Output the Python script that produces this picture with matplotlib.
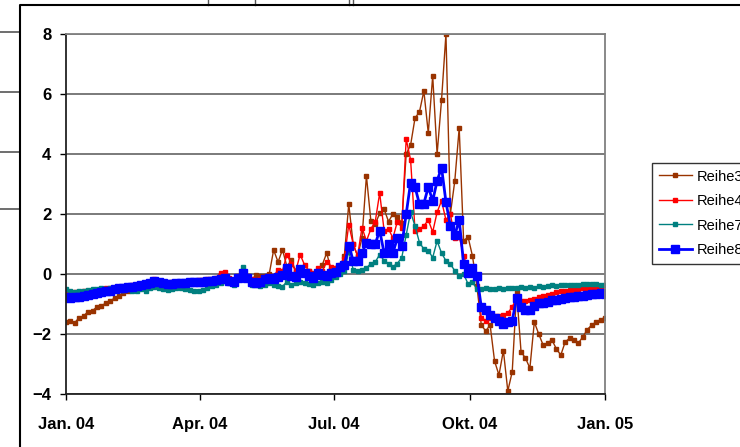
import pandas as pd
import matplotlib.pyplot as plt
import matplotlib.dates as mdates
from matplotlib.lines import Line2D

plt.rcParams['font.family'] = ['Liberation Sans', 'DejaVu Sans']

# data (every 3rd day)
dates = pd.date_range('2004-01-01', periods=123, freq='3D')

reihe3 = [-1.60, -1.55, -1.62, -1.45, -1.40, -1.25, -1.22, -1.10, -1.05, -0.98,
          -0.90, -0.80, -0.72, -0.62, -0.57, -0.52, -0.45, -0.42, -0.38, -0.34,
          -0.28, -0.30, -0.34, -0.36, -0.33, -0.32, -0.30, -0.31, -0.28, -0.27,
          -0.26, -0.25, -0.22, -0.20, -0.18, -0.10, -0.12, -0.20, -0.25, -0.10,
          0.05, -0.10, -0.20, -0.03, -0.05, -0.08, 0.00, 0.80, 0.40, 0.81,
          0.25, 0.46, 0.10, 0.15, 0.05, 0.10, 0.00, 0.10, 0.30, 0.70,
          0.15, 0.20, 0.25, 0.60, 2.33, 1.00, 0.60, 1.20, 3.27, 1.78,
          1.67, 2.02, 2.16, 1.75, 2.00, 1.90, 1.70, 4.00, 4.30, 5.20,
          5.40, 6.10, 4.70, 6.60, 4.00, 5.80, 8.00, 2.00, 3.10, 4.87,
          1.10, 1.24, 0.60, -0.39, -1.70, -1.90, -1.70, -2.90, -3.37, -2.55,
          -3.90, -3.26, -0.60, -2.60, -2.80, -3.14, -1.60, -2.00, -2.37, -2.30,
          -2.20, -2.50, -2.70, -2.26, -2.14, -2.20, -2.30, -2.09, -1.85, -1.70,
          -1.60, -1.52, -1.45]

reihe4 = [-0.55, -0.62, -0.60, -0.62, -0.58, -0.56, -0.55, -0.52, -0.50, -0.48,
          -0.47, -0.45, -0.43, -0.42, -0.40, -0.37, -0.35, -0.33, -0.30, -0.28,
          -0.18, -0.22, -0.28, -0.30, -0.28, -0.27, -0.25, -0.26, -0.22, -0.22,
          -0.20, -0.20, -0.18, -0.15, -0.12, 0.05, 0.08, -0.12, -0.20, -0.05,
          0.10, -0.08, -0.18, -0.20, -0.18, -0.10, -0.05, -0.08, 0.15, 0.10,
          0.65, 0.35, 0.10, 0.65, 0.30, 0.10, 0.05, 0.20, 0.10, 0.40,
          0.25, 0.20, 0.30, 0.50, 1.65, 1.00, 0.60, 1.55, 1.10, 1.50,
          1.75, 2.70, 1.45, 1.50, 1.20, 1.75, 1.55, 4.50, 3.80, 1.45,
          1.50, 1.60, 1.80, 1.40, 2.06, 2.44, 1.80, 2.00, 1.20, 1.25,
          0.60, 0.20, 0.00, -0.10, -1.45, -1.55, -1.45, -1.40, -1.40, -1.35,
          -1.30, -1.10, -0.78, -0.90, -0.90, -0.87, -0.82, -0.78, -0.72, -0.70,
          -0.66, -0.60, -0.58, -0.55, -0.53, -0.52, -0.50, -0.48, -0.48, -0.47,
          -0.48, -0.50, -0.58]

reihe7 = [-0.50, -0.55, -0.60, -0.58, -0.55, -0.52, -0.50, -0.50, -0.48, -0.50,
          -0.48, -0.47, -0.50, -0.52, -0.50, -0.55, -0.55, -0.50, -0.55, -0.45,
          -0.42, -0.45, -0.50, -0.52, -0.50, -0.48, -0.47, -0.50, -0.52, -0.55,
          -0.58, -0.52, -0.45, -0.40, -0.35, -0.30, -0.20, -0.30, -0.35, -0.10,
          0.22, -0.15, -0.35, -0.38, -0.40, -0.38, -0.30, -0.35, -0.40, -0.42,
          -0.25, -0.35, -0.30, -0.25, -0.30, -0.32, -0.35, -0.30, -0.28, -0.30,
          -0.20, -0.10, 0.00, 0.10, 0.75, 0.15, 0.10, 0.15, 0.20, 0.35,
          0.40, 0.65, 0.45, 0.35, 0.25, 0.35, 0.55, 1.30, 2.06, 1.60,
          1.05, 0.83, 0.78, 0.55, 1.10, 0.70, 0.44, 0.33, 0.11, -0.06,
          0.00, -0.33, -0.28, -0.50, -0.50, -0.48, -0.50, -0.50, -0.48, -0.50,
          -0.47, -0.45, -0.45, -0.43, -0.45, -0.42, -0.45, -0.40, -0.42, -0.40,
          -0.38, -0.40, -0.38, -0.37, -0.36, -0.35, -0.36, -0.34, -0.33, -0.32,
          -0.33, -0.35, -0.38]

reihe8 = [-0.78, -0.80, -0.76, -0.75, -0.72, -0.70, -0.68, -0.62, -0.60, -0.55,
          -0.55, -0.50, -0.48, -0.47, -0.44, -0.42, -0.39, -0.36, -0.32, -0.30,
          -0.22, -0.25, -0.31, -0.34, -0.33, -0.31, -0.30, -0.31, -0.28, -0.27,
          -0.26, -0.26, -0.24, -0.22, -0.20, -0.16, -0.14, -0.22, -0.28, -0.12,
          0.05, -0.12, -0.25, -0.30, -0.28, -0.18, -0.14, -0.16, -0.10, -0.02,
          0.20, -0.05, -0.10, 0.18, 0.05, -0.05, -0.12, 0.02, -0.02, -0.05,
          0.05, 0.08, 0.24, 0.30, 0.95, 0.45, 0.42, 0.70, 1.05, 1.00,
          1.00, 1.45, 0.70, 1.00, 0.70, 1.20, 0.95, 2.00, 3.05, 2.90,
          2.33, 2.35, 2.90, 2.44, 3.10, 3.55, 2.40, 1.60, 1.30, 1.80,
          0.33, 0.05, 0.20, -0.05, -1.10, -1.20, -1.35, -1.45, -1.55, -1.65,
          -1.60, -1.55, -0.80, -1.10, -1.20, -1.20, -1.05, -0.98, -0.95, -0.92,
          -0.88, -0.86, -0.82, -0.80, -0.78, -0.76, -0.74, -0.72, -0.70, -0.68,
          -0.66, -0.64, -0.66]

yticks = [-4, -2, 0, 2, 4, 6, 8]
xticks = ['2004-01-01', '2004-04-01', '2004-07-01', '2004-10-01', '2005-01-01']
xlabels = ['Jan. 04', 'Apr. 04', 'Jul. 04', 'Okt. 04', 'Jan. 05']

W, H = 740, 447
fig = plt.figure(figsize=(W / 100, H / 100), dpi=100)

# bits of the chart lying behind (left strip) and the chart frame
for yy in [32, 92, 152, 209]:
    fig.add_artist(Line2D([0, 20 / W], [1 - yy / H, 1 - yy / H], color='#555555', lw=1.2))
for xx in [208, 255, 349, 353]:
    fig.add_artist(Line2D([xx / W, xx / W], [1, 1 - 5 / H], color='#555555', lw=1))
fig.add_artist(Line2D([20 / W, 20 / W, 1], [0, 1 - 5 / H, 1 - 5 / H], color='black', lw=1.5))

ax = fig.add_axes([66 / W, 1 - 394 / H, (605 - 66) / W, (394 - 34) / H])

ax.plot(dates, reihe3, color='#993300', lw=1, marker='s', ms=3, label='Reihe3')
ax.plot(dates, reihe4, color='#FF0000', lw=1, marker='s', ms=3.5, label='Reihe4')
ax.plot(dates, reihe7, color='#008080', lw=1, marker='s', ms=3, label='Reihe7')
ax.plot(dates, reihe8, color='#0000FF', lw=2, marker='s', ms=5.5, label='Reihe8')

ax.set_ylim(-4, 8)
ax.set_yticks(yticks)
ax.set_xlim(pd.Timestamp('2004-01-01'), pd.Timestamp('2005-01-01'))
ax.set_xticks(pd.to_datetime(xticks))
ax.set_xticklabels(xlabels)
ax.grid(axis='y', color='#707070', lw=1.3)
ax.set_axisbelow(True)

for s in ['top', 'right']:
    ax.spines[s].set_color('#808080')
    ax.spines[s].set_linewidth(1.3)
for s in ['left', 'bottom']:
    ax.spines[s].set_color('#222222')
    ax.spines[s].set_linewidth(1.3)

ax.tick_params(axis='both', direction='out', length=4.5, width=1, labelsize=12)
ax.tick_params(axis='x', pad=12)
ax.tick_params(axis='y', pad=6)
for lbl in ax.get_xticklabels() + ax.get_yticklabels():
    lbl.set_fontweight('bold')

leg = fig.legend(loc='upper left', bbox_to_anchor=(652 / W, 1 - 163 / H),
                 fontsize=10.5, frameon=True, fancybox=False, edgecolor='black',
                 borderaxespad=0, handlelength=2.3, labelspacing=0.72,
                 handletextpad=0.3, borderpad=0.45)
leg.get_frame().set_linewidth(1)

fig.savefig('out.png', dpi=100)
